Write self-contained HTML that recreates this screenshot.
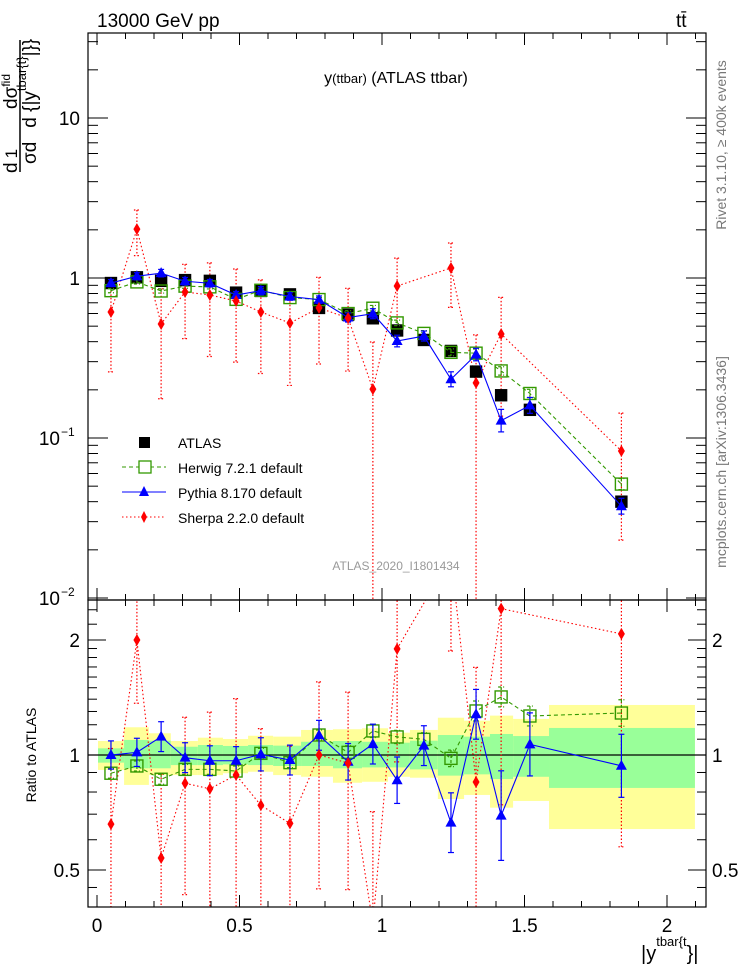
<!DOCTYPE html>
<html><head><meta charset="utf-8"><style>
html,body{margin:0;padding:0;background:#fff;width:746px;height:972px;overflow:hidden;}
svg{display:block;font-family:"Liberation Sans",Arial,sans-serif;}
</style></head><body>
<svg id="chart" width="746" height="972" viewBox="0 0 746 972">
<defs>
<clipPath id="clipTop"><rect x="88" y="33" width="618" height="567"/></clipPath>
<clipPath id="clipBot"><rect x="88" y="600" width="618" height="307"/></clipPath>
</defs>
<g id="bands" clip-path="url(#clipBot)"></g>
<g id="topMarks" clip-path="url(#clipTop)"></g>
<g id="botMarks" clip-path="url(#clipBot)"></g>
<g id="axes"></g>
<rect x="88" y="33" width="618" height="567" fill="none" stroke="#000" stroke-width="1.2"/>
<rect x="88" y="600" width="618" height="307" fill="none" stroke="#000" stroke-width="1.2"/>
<text x="97" y="27" font-size="19">13000 GeV pp</text>
<text x="676" y="27" font-size="19">tt̄</text>
<text x="396" y="83" font-size="16" text-anchor="middle">y<tspan font-size="13">(ttbar)</tspan> (ATLAS ttbar)</text>
<text x="396" y="570" font-size="12" fill="#999" text-anchor="middle">ATLAS_2020_I1801434</text>
<text transform="translate(726,145) rotate(-90)" font-size="14" fill="#777" text-anchor="middle">Rivet 3.1.10, ≥ 400k events</text>
<text transform="translate(726,462) rotate(-90)" font-size="14" fill="#777" text-anchor="middle">mcplots.cern.ch [arXiv:1306.3436]</text>
<g>
<line x1="20" y1="40" x2="20" y2="172" stroke="#000" stroke-width="1.5"/>
<text transform="translate(17,173) rotate(-90)" font-size="19">d<tspan font-size="17" dx="4">1</tspan><tspan dx="40">dσ</tspan><tspan font-size="12" dy="-7">fid</tspan></text>
<text transform="translate(36,164) rotate(-90)" font-size="19">σd<tspan dx="14">d {|y</tspan><tspan font-size="13" dy="-10">tbar{t}</tspan><tspan dy="10">|}}</tspan></text>
</g>
<text transform="translate(36,755) rotate(-90)" font-size="14" text-anchor="middle">Ratio to ATLAS</text>
<text x="641" y="960" font-size="20">|y<tspan font-size="13" dy="-14">tbar{t</tspan><tspan dy="14">}|</tspan></text>
<g font-size="14">
<g><rect x="139" y="437" width="11" height="11" fill="#000"/><text x="178" y="448">ATLAS</text></g>
<g><line x1="122" y1="467" x2="166" y2="467" stroke="#339900" stroke-dasharray="4,3"/><rect x="139" y="461" width="12" height="12" fill="#fff" stroke="#339900" stroke-width="1.3"/><text x="178" y="473">Herwig 7.2.1 default</text></g>
<g><line x1="122" y1="492" x2="166" y2="492" stroke="#0000ff"/><path d="M144,486 L149,496 L139,496 Z" fill="#0000ff"/><text x="178" y="498">Pythia 8.170 default</text></g>
<g><line x1="122" y1="517" x2="166" y2="517" stroke="#ff0000" stroke-dasharray="1.5,2.5"/><path d="M144,511 L147,517 L144,523 L141,517 Z" fill="#ff0000"/><text x="178" y="523">Sherpa 2.2.0 default</text></g>
</g>
</svg>
<script>
const binCenters = [0.049,0.14,0.225,0.309,0.396,0.488,0.575,0.677,0.779,0.881,0.968,1.053,1.147,1.242,1.33,1.418,1.519,1.84];
const binEdges = [0.0035,0.095,0.182,0.259,0.354,0.442,0.530,0.618,0.716,0.828,0.930,1.021,1.098,1.196,1.288,1.379,1.460,1.586,2.098];
const atlasValues = [0.93,1.01,0.96,0.97,0.96,0.81,0.83,0.79,0.65,0.59,0.56,0.47,0.41,0.35,0.26,0.185,0.15,0.040];
const bandYellowUp = [1.088,1.182,1.140,1.088,1.110,1.101,1.123,1.117,1.163,1.168,1.175,1.144,1.163,1.252,1.230,1.268,1.243,1.352];
const bandYellowDown = [0.914,0.835,0.886,0.886,0.886,0.896,0.904,0.886,0.877,0.846,0.851,0.877,0.872,0.767,0.786,0.728,0.758,0.640];
const bandGreenUp = [1.041,1.095,1.090,1.051,1.062,1.056,1.062,1.058,1.083,1.088,1.083,1.077,1.090,1.128,1.117,1.135,1.121,1.177];
const bandGreenDown = [0.955,0.923,0.923,0.941,0.941,0.945,0.941,0.936,0.936,0.923,0.928,0.928,0.917,0.883,0.890,0.865,0.877,0.820];
const pythiaRatio = [1.00,1.016,1.117,0.984,0.966,0.966,1.004,0.970,1.126,0.960,1.068,0.859,1.058,0.665,1.278,0.694,1.066,0.937];
const pythiaRelErr = [0.085,0.085,0.09,0.09,0.09,0.085,0.1,0.09,0.09,0.11,0.12,0.14,0.12,0.18,0.15,0.27,0.19,0.19];
const herwigRatio = [0.896,0.936,0.864,0.917,0.917,0.908,1.010,0.955,1.128,1.016,1.156,1.115,1.099,0.980,1.304,1.419,1.265,1.288];
const herwigRelErr = [0.03,0.03,0.03,0.03,0.03,0.03,0.03,0.03,0.03,0.04,0.04,0.04,0.04,0.05,0.06,0.06,0.06,0.08];
const sherpaValues = [0.613,2.02,0.516,0.818,0.783,0.718,0.613,0.523,0.65,0.562,0.202,0.891,null,1.155,0.221,0.447,null,0.083];
const sherpaErr = [0.354,0.64,0.34,0.40,0.46,0.42,0.36,0.31,0.36,0.30,0.196,0.44,null,0.50,0.22,0.31,null,0.06];
const xTicks = [0,0.5,1,1.5,2];
const xTickLabels = ["0","0.5","1","1.5","2"];
const ratioTicks = [0.5,1,2];
const ratioTickLabels = ["0.5","1","2"];

const NS="http://www.w3.org/2000/svg";
const X = v => 97 + 285*v;
const YT = v => 278 - 160*Math.log10(v);
const YR = r => 755 - 382*Math.log10(r);
const YTc = v => Math.min(610, Math.max(20, YT(v)));
const YRc = r => Math.min(915, Math.max(590, YR(r)));
function mk(parent, tag, attrs){const e=document.createElementNS(NS,tag);for(const k in attrs)e.setAttribute(k,attrs[k]);parent.appendChild(e);return e;}
const gB=document.getElementById('bands'), gT=document.getElementById('topMarks'), gR=document.getElementById('botMarks'), gA=document.getElementById('axes');

for(let i=0;i<binCenters.length;i++){
  const x0=X(binEdges[i]), x1=X(binEdges[i+1]);
  const y=mk(gB,'rect',{x:x0,y:YR(bandYellowUp[i]),width:x1-x0,height:YR(bandYellowDown[i])-YR(bandYellowUp[i]),fill:'#ffff99'});
  
  
  const g=mk(gB,'rect',{x:x0,y:YR(bandGreenUp[i]),width:x1-x0,height:YR(bandGreenDown[i])-YR(bandGreenUp[i]),fill:'#99ff99'});
  
  
}
const one=mk(gR,'line',{x1:88,x2:706,y1:YR(1),y2:YR(1),stroke:'#000','stroke-width':1.2});



function polyline(g, pts, color, dash, name){
  const p=mk(g,'polyline',{points:pts.map(q=>q.join(',')).join(' '),fill:'none',stroke:color,'stroke-width':1.1});
  if(dash)p.setAttribute('stroke-dasharray',dash);
  
  
}
function errbar(g,x,y1,y2,color,dash){
  const l=mk(g,'line',{x1:x,x2:x,y1:y1,y2:y2,stroke:color,'stroke-width':1.2});
  if(dash)l.setAttribute('stroke-dasharray',dash);
  
  
  mk(g,'line',{x1:x-3,x2:x+3,y1:y1,y2:y1,stroke:color,'stroke-width':1.2,'stroke-dasharray':dash||'none'});
  mk(g,'line',{x1:x-3,x2:x+3,y1:y2,y2:y2,stroke:color,'stroke-width':1.2,'stroke-dasharray':dash||'none'});
}
function square(g,x,y,fill,stroke,s,name){
  const r=mk(g,'rect',{x:x-s/2,y:y-s/2,width:s,height:s,fill:fill,stroke:stroke,'stroke-width':1.4});
  
  
}
function tri(g,x,y,name){
  const p=mk(g,'path',{d:`M${x},${y-6} L${x+5.5},${y+4} L${x-5.5},${y+4} Z`,fill:'#0000ff'});
  
  
}
function diamond(g,x,y,name){
  const p=mk(g,'path',{d:`M${x},${y-6} L${x+3.5},${y} L${x},${y+6} L${x-3.5},${y} Z`,fill:'#ff0000'});
  
  
}

const n=binCenters.length;
const herwigVals=herwigRatio.map((r,i)=>r*atlasValues[i]);
const pythiaVals=pythiaRatio.map((r,i)=>r*atlasValues[i]);
const shIdx=[...Array(n).keys()].filter(i=>sherpaValues[i]!==null);
polyline(gT, shIdx.map(i=>[X(binCenters[i]),YT(sherpaValues[i])]), '#ff0000','1.5,2.5','sherpa-line');
shIdx.forEach(i=>{const lo=Math.max(sherpaValues[i]-sherpaErr[i],1e-4);errbar(gT,X(binCenters[i]),YTc(sherpaValues[i]+sherpaErr[i]),YTc(lo),'#ff0000','1.5,2');});
atlasValues.forEach((v,i)=>square(gT,X(binCenters[i]),YT(v),'#000','#000',11,'atlas-point'));
polyline(gT, herwigVals.map((v,i)=>[X(binCenters[i]),YT(v)]), '#339900','4,3','herwig-line');
herwigVals.forEach((v,i)=>{errbar(gT,X(binCenters[i]),YT(v*Math.exp(herwigRelErr[i])),YT(v*Math.exp(-herwigRelErr[i])),'#339900','3,2');square(gT,X(binCenters[i]),YT(v),'none','#339900',12,'herwig-point');});
polyline(gT, pythiaVals.map((v,i)=>[X(binCenters[i]),YT(v)]), '#0000ff',null,'pythia-line');
pythiaVals.forEach((v,i)=>{errbar(gT,X(binCenters[i]),YT(v*Math.exp(pythiaRelErr[i]*0.6)),YT(v*Math.exp(-pythiaRelErr[i]*0.6)),'#0000ff');tri(gT,X(binCenters[i]),YT(v),'pythia-point');});
shIdx.forEach(i=>diamond(gT,X(binCenters[i]),YT(sherpaValues[i]),'sherpa-point'));

const shR=shIdx.map(i=>sherpaValues[i]/atlasValues[i]);
polyline(gR, shIdx.map((i,k)=>[X(binCenters[i]),YR(shR[k])]), '#ff0000','1.5,2.5','sherpa-ratio-line');
shIdx.forEach((i,k)=>{const e=sherpaErr[i]/atlasValues[i];errbar(gR,X(binCenters[i]),YRc(shR[k]+e),YRc(Math.max(shR[k]-e,1e-3)),'#ff0000','1.5,2');});
polyline(gR, herwigRatio.map((r,i)=>[X(binCenters[i]),YR(r)]), '#339900','4,3','herwig-ratio-line');
herwigRatio.forEach((r,i)=>{errbar(gR,X(binCenters[i]),YR(r*Math.exp(herwigRelErr[i])),YR(r*Math.exp(-herwigRelErr[i])),'#339900','3,2');square(gR,X(binCenters[i]),YR(r),'none','#339900',12,'herwig-ratio-point');});
polyline(gR, pythiaRatio.map((r,i)=>[X(binCenters[i]),YR(r)]), '#0000ff',null,'pythia-ratio-line');
pythiaRatio.forEach((r,i)=>{errbar(gR,X(binCenters[i]),YR(r*Math.exp(pythiaRelErr[i])),YR(r*Math.exp(-pythiaRelErr[i])),'#0000ff');tri(gR,X(binCenters[i]),YR(r),'pythia-ratio-point');});
shIdx.forEach((i,k)=>diamond(gR,X(binCenters[i]),YR(shR[k]),'sherpa-ratio-point'));

function tick(x1,y1,x2,y2){mk(gA,'line',{x1,y1,x2,y2,stroke:'#000','stroke-width':1});}
for(let v=0;v<=2.1001;v+=0.1){
  const x=X(v), major=Math.abs(v*2-Math.round(v*2))<1e-6, L=major?12:6;
  tick(x,600,x,600-L);tick(x,33,x,33+L);tick(x,907,x,907-L);tick(x,600,x,600+L);
}
xTicks.forEach((v,i)=>{const t=mk(gA,'text',{x:X(v),y:932,'font-size':19,'text-anchor':'middle'});t.textContent=xTickLabels[i];

});
for(let d=-2;d<=1;d++){
  for(let m=1;m<=9;m++){const v=m*Math.pow(10,d);const y=YT(v);if(y<33||y>600)continue;const L=m===1?20:10;tick(88,y,88+L,y);tick(706,y,706-L,y);}
}
const topLbl=[[10,"10"],[1,"1"]];
topLbl.forEach(([v,s])=>{const t=mk(gA,'text',{x:80,y:YT(v)+7,'font-size':19,'text-anchor':'end'});t.textContent=s;

});
[[0.1,"−1"],[0.01,"−2"]].forEach(([v,e])=>{const t=mk(gA,'text',{x:60,y:YT(v)+7,'font-size':19,'text-anchor':'end'});t.textContent='10';


const s=mk(gA,'text',{x:61,y:YT(v)-2,'font-size':12});s.textContent=e;});
[0.45,0.6,0.7,0.8,0.9,1.1,1.2,1.3,1.4,1.5,1.6,1.7,1.8,1.9,2.2,2.4].forEach(r=>{const y=YR(r);if(y<600||y>907)return;tick(88,y,97,y);tick(706,y,697,y);});
ratioTicks.forEach((r,i)=>{const y=YR(r);tick(88,y,106,y);tick(706,y,688,y);
const t=mk(gA,'text',{x:80,y:y+7,'font-size':19,'text-anchor':'end'});t.textContent=ratioTickLabels[i];


const t2=mk(gA,'text',{x:712,y:y+7,'font-size':19});t2.textContent=ratioTickLabels[i];

});
</script>
</body></html>
